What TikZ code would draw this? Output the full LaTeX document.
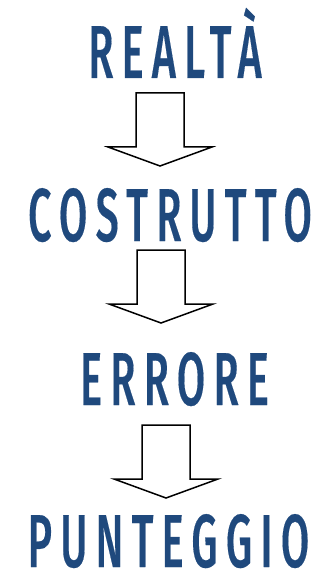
\documentclass[tikz,border=0pt]{standalone}
\usepackage{fontspec}
\newfontfamily\wordfont[LetterSpace=20,FakeBold=0.35]{Fira Sans Medium}
\definecolor{wordblue}{HTML}{1F497D}
\tikzset{
  word/.style = {anchor=base, inner sep=0pt, text=wordblue, xscale=0.55,
                 font=\wordfont\fontsize{75bp}{75bp}\selectfont},
  block_arrow/.style = {draw=black, fill=white, line width=1.5bp, line join=miter}
}

\begin{document}
\begin{tikzpicture}[x=1bp, y=-1bp]
  \useasboundingbox (0,0) rectangle (326,576);
  \node [word] (realta)    at (175,78)    {REALTÀ};
  \node [word] (costrutto) at (170,241)   {COSTRUTTO};
  \node [word] (errore)    at (174.5,405) {ERRORE};
  \node [word] (punteggio) at (168.5,567) {PUNTEGGIO};
  % block arrows: centre x / top y
  \foreach \cx/\ty in {160/93, 161/250, 166/425}
    \draw [block_arrow] (\cx-24,\ty) -- (\cx+24,\ty) -- (\cx+24,\ty+54)
      -- (\cx+52,\ty+54) -- (\cx,\ty+73) -- (\cx-52,\ty+54)
      -- (\cx-24,\ty+54) -- cycle;
\end{tikzpicture}
\end{document}
